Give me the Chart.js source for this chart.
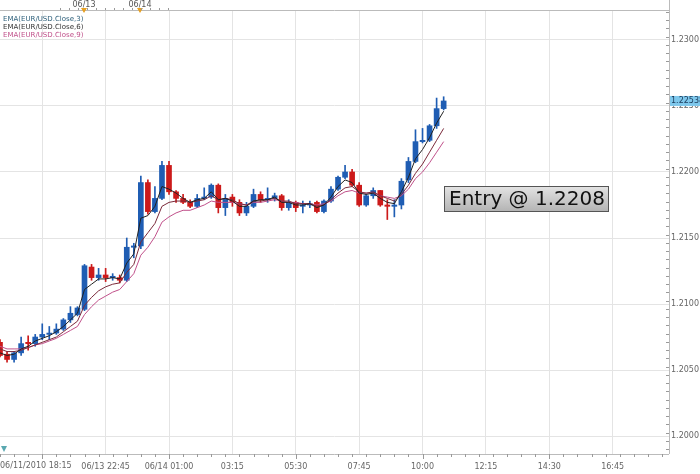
<!DOCTYPE html>
<html><head><meta charset="utf-8">
<script src="https://cdn.jsdelivr.net/npm/chart.js@4/dist/chart.umd.min.js"></script>
<style>html,body{margin:0;padding:0;background:#fff}#w{width:700px;height:474px}</style>
</head><body><div id="w"><canvas id="c"></canvas></div>
<script>
const openP=[1.2071,1.2062,1.2058,1.2063,1.2071,1.2070,1.2075,1.2077,1.2078,1.2081,1.2088,1.2092,1.2096,1.2128,1.2120,1.2122,1.2120,1.2120,1.2118,1.2143,1.2144,1.2192,1.2170,1.2180,1.2205,1.2185,1.2180,1.2177,1.2174,1.2180,1.2181,1.2190,1.2173,1.2181,1.2177,1.2169,1.2174,1.2183,1.2179,1.2180,1.2182,1.2173,1.2177,1.2174,1.2175,1.2177,1.2170,1.2178,1.2187,1.2196,1.2200,1.2190,1.2175,1.2182,1.2186,1.2175,1.2174,1.2175,1.2194,1.2208,1.2223,1.2224,1.2235,1.2248];
const highP=[1.2073,1.2064,1.2064,1.2075,1.2076,1.2077,1.2085,1.2083,1.2085,1.2089,1.2098,1.2098,1.2130,1.2130,1.2127,1.2127,1.2123,1.2122,1.2150,1.2146,1.2197,1.2194,1.2189,1.2208,1.2208,1.2186,1.2183,1.2179,1.2183,1.2188,1.2191,1.2191,1.2183,1.2183,1.2179,1.2177,1.2187,1.2185,1.2188,1.2184,1.2183,1.2179,1.2178,1.2178,1.2178,1.2178,1.2179,1.2189,1.2197,1.2205,1.2202,1.2192,1.2183,1.2188,1.2186,1.2179,1.2179,1.2195,1.2211,1.2232,1.2233,1.2236,1.2256,1.2257];
const lowP=[1.2060,1.2056,1.2056,1.2061,1.2065,1.2068,1.2073,1.2073,1.2077,1.2080,1.2086,1.2091,1.2095,1.2118,1.2118,1.2117,1.2118,1.2116,1.2117,1.2135,1.2142,1.2168,1.2169,1.2179,1.2183,1.2177,1.2176,1.2173,1.2173,1.2179,1.2180,1.2169,1.2167,1.2174,1.2167,1.2167,1.2173,1.2177,1.2177,1.2178,1.2171,1.2171,1.2170,1.2169,1.2173,1.2169,1.2169,1.2177,1.2186,1.2195,1.2189,1.2174,1.2174,1.2180,1.2174,1.2164,1.2166,1.2172,1.2192,1.2207,1.2222,1.2223,1.2233,1.2247];
const closeP=[1.2061,1.2058,1.2063,1.2070,1.2070,1.2075,1.2077,1.2078,1.2081,1.2088,1.2093,1.2097,1.2129,1.2120,1.2122,1.2120,1.2121,1.2118,1.2143,1.2144,1.2192,1.2170,1.2180,1.2205,1.2185,1.2180,1.2177,1.2174,1.2180,1.2181,1.2190,1.2173,1.2180,1.2177,1.2169,1.2174,1.2183,1.2179,1.2180,1.2182,1.2173,1.2177,1.2173,1.2175,1.2176,1.2170,1.2178,1.2187,1.2196,1.2200,1.2190,1.2175,1.2182,1.2186,1.2175,1.2174,1.2175,1.2193,1.2208,1.2223,1.2224,1.2235,1.2248,1.22538];
const ema3=[1.2063,1.2061,1.2062,1.2066,1.2068,1.2072,1.2074,1.2076,1.2079,1.2083,1.2088,1.2093,1.2111,1.2115,1.2119,1.2119,1.2120,1.2119,1.2131,1.2138,1.2165,1.2167,1.2174,1.2189,1.2187,1.2184,1.2180,1.2177,1.2179,1.2180,1.2185,1.2179,1.2180,1.2178,1.2174,1.2174,1.2178,1.2179,1.2179,1.2181,1.2177,1.2177,1.2175,1.2175,1.2176,1.2173,1.2175,1.2181,1.2189,1.2194,1.2192,1.2184,1.2183,1.2184,1.2180,1.2177,1.2176,1.2185,1.2196,1.2210,1.2217,1.2226,1.2237,1.2246];
const ema6=[1.2066,1.2064,1.2064,1.2065,1.2067,1.2069,1.2071,1.2073,1.2075,1.2079,1.2083,1.2087,1.2099,1.2105,1.2110,1.2113,1.2115,1.2116,1.2124,1.2130,1.2147,1.2154,1.2161,1.2174,1.2177,1.2178,1.2178,1.2177,1.2178,1.2179,1.2182,1.2179,1.2180,1.2179,1.2176,1.2175,1.2178,1.2178,1.2179,1.2180,1.2178,1.2178,1.2176,1.2176,1.2176,1.2174,1.2175,1.2179,1.2184,1.2188,1.2189,1.2185,1.2184,1.2185,1.2182,1.2180,1.2178,1.2183,1.2190,1.2199,1.2206,1.2215,1.2224,1.2233];
const ema9=[1.2068,1.2066,1.2066,1.2066,1.2067,1.2069,1.2070,1.2072,1.2074,1.2077,1.2080,1.2083,1.2092,1.2098,1.2103,1.2106,1.2109,1.2111,1.2117,1.2123,1.2137,1.2143,1.2151,1.2162,1.2166,1.2169,1.2171,1.2171,1.2173,1.2175,1.2178,1.2177,1.2177,1.2177,1.2176,1.2175,1.2177,1.2177,1.2178,1.2179,1.2178,1.2177,1.2177,1.2176,1.2176,1.2175,1.2176,1.2178,1.2182,1.2185,1.2186,1.2184,1.2184,1.2184,1.2182,1.2181,1.2180,1.2182,1.2187,1.2195,1.2200,1.2207,1.2215,1.2223];
const slotCount=96;
const tickLabels={6:'06/11/2010 18:15',15:'06/13 22:45',24:'06/14 01:00',33:'03:15',42:'05:30',51:'07:45',60:'10:00',69:'12:15',78:'14:30',87:'16:45'};
const yTicks=[1.2000,1.2050,1.2100,1.2150,1.2200,1.2250,1.2300];
const emaNames=['EMA(EUR/USD.Close,3)','EMA(EUR/USD.Close,6)','EMA(EUR/USD.Close,9)'];
const entryText='Entry @ 1.2208';
const lastText='1.22538';

const labels=[];for(let i=0;i<slotCount;i++)labels.push(i);
const up=i=>closeP[i]>=openP[i];
const col=i=>up(i)?'#1f5db3':'#cc1a1a';
const wick=openP.map((o,i)=>[lowP[i],highP[i]]);
const body=openP.map((o,i)=>{let a=o,b=closeP[i];if(Math.abs(a-b)<0.00008)b=a+(up(i)?0.00008:-0.00008);return [a,b];});
const cols=openP.map((o,i)=>col(i));

const deco={id:'deco',afterDraw(ch){
  const c=ch.ctx,a=ch.chartArea,y=ch.scales.y,x=ch.scales.x;
  c.save();
  c.strokeStyle='#bbb';c.lineWidth=1;
  c.beginPath();c.moveTo(0,10.5);c.lineTo(a.right,10.5);c.stroke();
  c.beginPath();c.moveTo(a.right+0.5,0);c.lineTo(a.right+0.5,a.bottom);c.stroke();
  c.beginPath();c.moveTo(0,a.bottom+0.5);c.lineTo(a.right,a.bottom+0.5);c.stroke();
  c.font='8px "DejaVu Sans"';c.fillStyle='#555';c.textAlign='center';c.textBaseline='alphabetic';
  c.fillText('06/13',84,7);c.fillText('06/14',140,7);
  c.fillStyle='#e8a020';
  [84,140].forEach(px=>{c.beginPath();c.moveTo(px-3,8);c.lineTo(px+3,8);c.lineTo(px,13);c.closePath();c.fill();});
  c.strokeStyle='#999';
  for(let px=60;px<170;px+=9){c.beginPath();c.moveTo(px+0.5,8);c.lineTo(px+0.5,10);c.stroke();}
  c.textAlign='left';c.font='7px "DejaVu Sans"';
  const lc=['#2d5f7a','#333','#c0508a'];
  emaNames.forEach((t,k)=>{c.fillStyle=lc[k];c.fillText(t,3,21+k*8);});
  c.fillStyle='#666';c.font='8px "DejaVu Sans"';c.textBaseline='top';c.fillText(tickLabels[6],0,a.bottom+8);
  c.strokeStyle='#999';
  for(let i=0;i<slotCount;i+=2){const px=Math.round(x.getPixelForValue(i))+0.5;c.beginPath();c.moveTo(px,a.bottom);c.lineTo(px,a.bottom+(i%9==6?5:3));c.stroke();}
  for(let v=1.1990;v<=1.2322;v+=0.000625){const py=Math.round(y.getPixelForValue(v))+0.5;c.beginPath();c.moveTo(a.right-3,py);c.lineTo(a.right,py);c.stroke();}
  const py=y.getPixelForValue(closeP[closeP.length-1]);
  c.fillStyle='#7ec8ec';c.fillRect(a.right+1,py-5,31,10);
  c.fillStyle='#1a3a5a';c.font='8px "DejaVu Sans"';c.textBaseline='middle';c.fillText(lastText,a.right+2,py);
  const bx=444,by=186,bw=164,bh=25;
  const g=c.createLinearGradient(0,by,0,by+bh);g.addColorStop(0,'#e4e4e4');g.addColorStop(1,'#b4b4b4');
  c.fillStyle=g;c.fillRect(bx,by,bw,bh);c.strokeStyle='#555';c.strokeRect(bx+0.5,by+0.5,bw,bh);
  c.fillStyle='#111';c.font='20px "DejaVu Sans"';c.textAlign='center';c.fillText(entryText,bx+bw/2+1,by+bh/2+1);
  c.fillStyle='#5aa8b0';c.beginPath();c.moveTo(1,446);c.lineTo(7,446);c.lineTo(4,452);c.closePath();c.fill();
  c.restore();
}};

new Chart(document.getElementById('c'),{
  type:'bar',
  data:{labels,datasets:[
    {type:'line',data:ema3,borderColor:'#222',borderWidth:1,pointRadius:0,tension:0,order:0},
    {type:'line',data:ema6,borderColor:'#7a2a3a',borderWidth:1,pointRadius:0,tension:0,order:0},
    {type:'line',data:ema9,borderColor:'#c0508a',borderWidth:1,pointRadius:0,tension:0,order:0},
    {data:body,backgroundColor:cols,barThickness:5,grouped:false,order:1},
    {data:wick,backgroundColor:cols,barThickness:1,grouped:false,order:2}
  ]},
  options:{responsive:true,maintainAspectRatio:false,animation:false,
    layout:{padding:{top:10,left:0,right:0,bottom:0}},
    plugins:{legend:{display:false},tooltip:{enabled:false}},
    scales:{
      x:{offset:false,grid:{offset:false,color:c=>tickLabels[c.index]!==undefined?'#e4e4e4':'transparent',drawTicks:false},border:{display:false},
         afterFit:s=>{s.height=20;s.paddingLeft=0;s.paddingRight=0;},
         ticks:{autoSkip:false,maxRotation:0,padding:8,color:'#666',font:{size:8,family:'DejaVu Sans'},callback:(v,i)=>i===6?'':(tickLabels[i]||'')}},
      y:{position:'right',min:1.19864,max:1.23227,grid:{color:'#e4e4e4',drawTicks:false},border:{display:false},
         afterBuildTicks:s=>{s.ticks=yTicks.map(v=>({value:v}));},
         afterFit:s=>{s.width=31;},
         ticks:{padding:2,color:'#666',font:{size:8,family:'DejaVu Sans'},callback:v=>v.toFixed(4)}}
    }}
,plugins:[deco]});
</script></body></html>
